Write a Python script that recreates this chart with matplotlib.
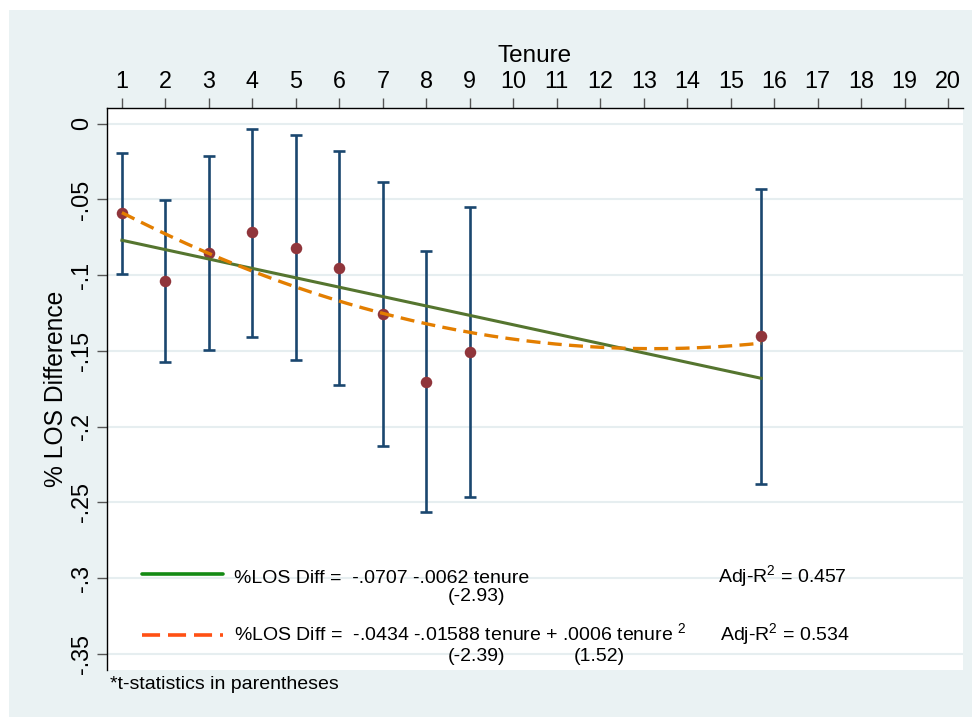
import matplotlib
matplotlib.use("Agg")
import matplotlib.pyplot as plt
from matplotlib.patches import Rectangle
import numpy as np

# data
tenure = [1, 2, 3, 4, 5, 6, 7, 8, 9, 15.7]
los_diff = [-0.0591, -0.1036, -0.0851, -0.0714, -0.0820, -0.0950, -0.1255, -0.1702, -0.1504, -0.1398]
ci_upper = [-0.0195, -0.0504, -0.0211, -0.0035, -0.0077, -0.0180, -0.0384, -0.0840, -0.0549, -0.0429]
ci_lower = [-0.0992, -0.1570, -0.1495, -0.1405, -0.1561, -0.1724, -0.2126, -0.2563, -0.2462, -0.2377]

# regression coefficients printed in the chart (const, tenure, tenure^2)
lin_coef = [-0.0707, -0.0062]
quad_coef = [-0.0434, -0.01588, 0.0006]

x_ticks = list(range(1, 21))
y_ticks = [0, -0.05, -0.1, -0.15, -0.2, -0.25, -0.3, -0.35]
y_tick_labels = ["0", "-.05", "-.1", "-.15", "-.2", "-.25", "-.3", "-.35"]

plt.rcParams['font.family'] = ['Liberation Sans', 'DejaVu Sans']

navy = '#1a476f'
maroon = '#90353b'
fgreen = '#55752f'
dkorange = '#e37e00'
bg = '#eaf2f3'

fig = plt.figure(figsize=(9.72, 7.17), dpi=100)
fig.patch.set_facecolor('white')
fig.patches.append(Rectangle((9 / 972, 0), 1, 1 - 10 / 717, transform=fig.transFigure,
                             facecolor=bg, edgecolor='none', zorder=-10))

ax = fig.add_axes([106.7 / 972, 1 - 670 / 717, (963 - 106.7) / 972, (670 - 108) / 717])
ax.set_facecolor('white')

# confidence intervals
t = np.array(tenure)
y = np.array(los_diff)
yerr = np.vstack([y - np.array(ci_lower), np.array(ci_upper) - y])
ax.errorbar(t, y, yerr=yerr, fmt='none', ecolor=navy, elinewidth=1.9,
            capsize=4.1, capthick=1.9, zorder=3)
ax.plot(t, y, 'o', color=maroon, markersize=8.3, markeredgewidth=0, zorder=4)

# fitted lines
xf = np.linspace(tenure[0], tenure[-1], 200)
ax.plot(xf, lin_coef[0] + lin_coef[1] * xf, color=fgreen, lw=2.2, zorder=5)
ax.plot(xf, quad_coef[0] + quad_coef[1] * xf + quad_coef[2] * xf ** 2,
        color=dkorange, lw=2.4, linestyle=(0, (4.2, 2.2)), zorder=6)

# axes
ax.set_xlim(0.65, 20.34)
ax.set_ylim(-0.3606, 0.0104)
ax.xaxis.tick_top()
ax.xaxis.set_label_position('top')
ax.set_xticks(x_ticks)
ax.set_xticklabels([str(v) for v in x_ticks], fontsize=16.8)
ax.set_yticks(y_ticks)
ax.set_yticklabels(y_tick_labels, fontsize=16.8, rotation=90, va='center')
ax.tick_params(axis='x', length=7.2, width=1, color='#555555', pad=3.5)
ax.tick_params(axis='y', length=7.2, width=1, color='#555555', pad=2.5)
ax.set_xlabel('Tenure', fontsize=17.5)
ax.xaxis.set_label_coords(0.5, 1 + (108 - 62) / 562)
ax.set_ylabel('% LOS Difference', fontsize=17.7)
ax.yaxis.set_label_coords((68.5 - 106.7) / 856.3, 0.5)

for s in ['right', 'bottom']:
    ax.spines[s].set_visible(False)
for s in ['left', 'top']:
    ax.spines[s].set_color('black')
    ax.spines[s].set_linewidth(1.0)

ax.grid(axis='y', color='#e6eef0', lw=1.5)
ax.set_axisbelow(True)

# legend-like annotations
fs = 14
ax.plot([1.467, 3.329], [-0.2971, -0.2971], color='#138a13', lw=2.6,
        solid_capstyle='round', zorder=5)
ax.plot([1.467, 3.329], [-0.3373, -0.3373], color='#ff5014', lw=2.6,
        linestyle=(0, (5.0, 2.2)), zorder=5)
ax.text(3.582, -0.3032, '%LOS Diff =  -.0707 -.0062 tenure', fontsize=fs, va='baseline')
ax.text(8.503, -0.3153, '(-2.93)', fontsize=fs, va='baseline')
ax.text(14.71, -0.3032, r'Adj-R$^\mathregular{2}$ = 0.457', fontsize=fs, va='baseline')
ax.text(3.582, -0.3417, r'%LOS Diff =  -.0434 -.01588 tenure + .0006 tenure $^\mathregular{2}$',
        fontsize=fs, va='baseline')
ax.text(8.503, -0.3549, '(-2.39)', fontsize=fs, va='baseline')
ax.text(11.39, -0.3549, '(1.52)', fontsize=fs, va='baseline')
ax.text(14.75, -0.3417, r'Adj-R$^\mathregular{2}$ = 0.534', fontsize=fs, va='baseline')

fig.text(110 / 972, 1 - 689.3 / 717, '*t-statistics in parentheses', fontsize=fs, va='baseline')

fig.savefig('out.png', dpi=100)
